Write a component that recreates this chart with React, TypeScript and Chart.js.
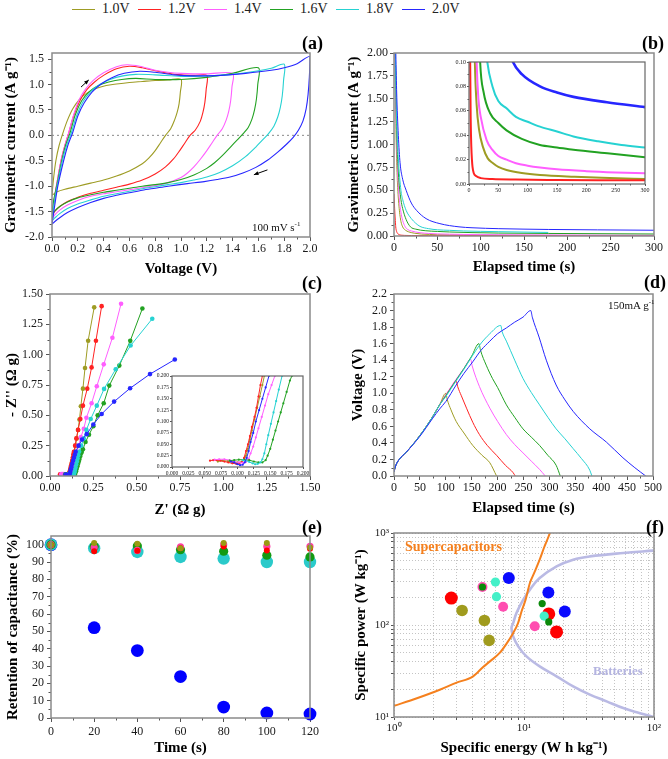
import React, { useEffect, useRef } from 'react';
import { Chart, registerables } from 'chart.js';

Chart.register(...registerables);

const SERIF = '"Liberation Serif", "Times New Roman", Times, serif';

type P = [number, number];

// ---------- shared series ----------
const SERIES_LABELS = ['1.0V', '1.2V', '1.4V', '1.6V', '1.8V', '2.0V'];
const SERIES_COLORS = ['#9e9c24', '#ff2222', '#ff5eff', '#22a222', '#26d2d2', '#2626ff'];

// ---------- (a) cyclic voltammetry: [V, A/g] ----------
const A_X_MIN = 0;
const A_X_MAX = 2;
const CV_10: P[] = [
  [0, -1.18], [0.012, -0.85], [0.03, -0.5], [0.055, -0.2], [0.085, 0.05], [0.12, 0.3], [0.16, 0.52], [0.21, 0.7],
  [0.27, 0.83], [0.34, 0.92], [0.42, 0.98], [0.5, 1.01], [0.6, 1.04], [0.7, 1.06], [0.8, 1.08], [0.9, 1.09], [1.0, 1.1],
  [0.995, 0.85], [0.985, 0.62], [0.97, 0.45], [0.95, 0.3], [0.92, 0.13], [0.88, 0.0], [0.84, -0.15], [0.8, -0.3],
  [0.75, -0.45], [0.7, -0.56], [0.6, -0.7], [0.5, -0.8], [0.4, -0.88], [0.3, -0.94], [0.2, -1.0], [0.1, -1.06],
  [0.04, -1.11], [0, -1.18],
];
const CV_12: P[] = [
  [0, -1.6], [0.015, -1.3], [0.034, -1.0], [0.07, -0.5], [0.1, -0.2], [0.13, 0.05], [0.17, 0.4], [0.22, 0.7],
  [0.27, 0.9], [0.33, 1.05], [0.4, 1.18], [0.5, 1.31], [0.6, 1.36], [0.7, 1.33], [0.8, 1.27], [0.9, 1.22],
  [1.0, 1.19], [1.1, 1.18], [1.2, 1.18],
  [1.195, 0.9], [1.185, 0.65], [1.17, 0.45], [1.15, 0.28], [1.11, 0.1], [1.07, 0.0], [1.03, -0.15], [0.99, -0.3],
  [0.94, -0.47], [0.88, -0.62], [0.8, -0.76], [0.7, -0.88], [0.6, -0.96], [0.5, -1.02], [0.4, -1.08], [0.3, -1.14],
  [0.2, -1.22], [0.12, -1.3], [0.06, -1.4], [0.02, -1.5], [0, -1.6],
];
const CV_14: P[] = [
  [0, -1.65], [0.015, -1.32], [0.034, -1.0], [0.07, -0.5], [0.1, -0.2], [0.13, 0.06], [0.17, 0.42], [0.21, 0.7],
  [0.26, 0.91], [0.32, 1.08], [0.4, 1.23], [0.5, 1.35], [0.58, 1.39], [0.68, 1.36], [0.8, 1.28], [0.9, 1.24],
  [1.0, 1.22], [1.2, 1.21], [1.4, 1.22],
  [1.395, 0.95], [1.385, 0.68], [1.37, 0.47], [1.35, 0.3], [1.32, 0.13], [1.28, 0.0], [1.24, -0.15], [1.2, -0.3],
  [1.15, -0.47], [1.1, -0.62], [1.05, -0.74], [1.0, -0.83], [0.9, -0.93], [0.8, -0.99], [0.7, -1.03], [0.6, -1.07],
  [0.5, -1.11], [0.4, -1.15], [0.3, -1.2], [0.2, -1.28], [0.12, -1.37], [0.06, -1.47], [0.02, -1.57], [0, -1.65],
];
const CV_16: P[] = [
  [0, -1.55], [0.015, -1.25], [0.036, -1.0], [0.075, -0.5], [0.105, -0.2], [0.14, 0.05], [0.18, 0.4], [0.23, 0.68],
  [0.29, 0.86], [0.36, 0.98], [0.44, 1.05], [0.54, 1.1], [0.65, 1.12], [0.8, 1.1], [1.0, 1.1], [1.2, 1.14],
  [1.4, 1.22], [1.6, 1.33],
  [1.595, 1.0], [1.585, 0.72], [1.57, 0.5], [1.55, 0.32], [1.52, 0.15], [1.48, 0.03], [1.44, -0.08], [1.38, -0.24],
  [1.32, -0.4], [1.26, -0.54], [1.2, -0.65], [1.1, -0.78], [1.0, -0.87], [0.9, -0.93], [0.8, -0.97], [0.7, -1.0],
  [0.6, -1.04], [0.5, -1.08], [0.4, -1.12], [0.3, -1.17], [0.2, -1.23], [0.12, -1.31], [0.06, -1.4], [0.02, -1.49],
  [0, -1.55],
];
const CV_18: P[] = [
  [0, -1.68], [0.016, -1.35], [0.04, -1.0], [0.08, -0.5], [0.115, -0.18], [0.15, 0.05], [0.19, 0.38], [0.24, 0.66],
  [0.3, 0.86], [0.37, 1.0], [0.45, 1.1], [0.55, 1.17], [0.65, 1.2], [0.8, 1.19], [1.0, 1.16], [1.2, 1.17],
  [1.4, 1.2], [1.6, 1.27], [1.7, 1.32], [1.8, 1.4],
  [1.795, 1.08], [1.785, 0.78], [1.77, 0.55], [1.75, 0.36], [1.72, 0.18], [1.68, 0.04], [1.64, -0.07], [1.58, -0.23],
  [1.5, -0.42], [1.4, -0.6], [1.3, -0.73], [1.2, -0.82], [1.1, -0.88], [1.0, -0.93], [0.9, -0.97], [0.8, -1.01],
  [0.7, -1.05], [0.6, -1.1], [0.5, -1.15], [0.4, -1.2], [0.3, -1.27], [0.2, -1.35], [0.12, -1.44], [0.06, -1.54],
  [0.02, -1.63], [0, -1.68],
];
const CV_20: P[] = [
  [0, -1.75], [0.02, -1.4], [0.045, -1.0], [0.09, -0.5], [0.125, -0.18], [0.16, 0.05], [0.2, 0.38], [0.25, 0.64],
  [0.31, 0.85], [0.38, 1.01], [0.46, 1.13], [0.56, 1.22], [0.68, 1.26], [0.8, 1.24], [0.95, 1.19], [1.1, 1.17],
  [1.3, 1.18], [1.5, 1.22], [1.7, 1.28], [1.8, 1.33], [1.9, 1.41], [2.0, 1.55],
  [1.995, 1.15], [1.985, 0.8], [1.97, 0.52], [1.945, 0.28], [1.91, 0.1], [1.87, -0.04], [1.82, -0.17], [1.75, -0.33],
  [1.67, -0.49], [1.58, -0.63], [1.48, -0.74], [1.38, -0.82], [1.28, -0.87], [1.18, -0.91], [1.05, -0.95],
  [0.9, -1.0], [0.8, -1.04], [0.7, -1.08], [0.6, -1.13], [0.5, -1.18], [0.4, -1.24], [0.3, -1.32], [0.2, -1.42],
  [0.12, -1.52], [0.06, -1.62], [0.02, -1.7], [0, -1.75],
];
const CV_SERIES = [CV_10, CV_12, CV_14, CV_16, CV_18, CV_20];
const ARROWS_A = [
  [0.225, 0.95, 0.285, 1.09],
  [1.67, -0.68, 1.565, -0.775],
];

// ---------- (b) current decay: [s, A/g] ----------
const DECAY_10: P[] = [
  [1, 2.05], [2, 1.3], [3, 0.85], [4, 0.58], [6, 0.3], [8, 0.16], [10, 0.1], [13, 0.065], [17, 0.045], [24, 0.03],
  [32, 0.021], [41, 0.017], [50, 0.014], [64, 0.0115], [90, 0.009], [121, 0.0074], [180, 0.006], [240, 0.005], [300, 0.0041],
];
const DECAY_12: P[] = [
  [0, 0.46], [0.5, 0.35], [1, 0.25], [1.5, 0.17], [2, 0.1], [3, 0.05], [4, 0.03], [5, 0.02], [6, 0.014], [8, 0.009],
  [12, 0.0065], [20, 0.0048], [40, 0.004], [80, 0.0036], [150, 0.0033], [220, 0.0031], [300, 0.003],
];
const DECAY_14: P[] = [
  [1, 2.05], [2, 1.5], [4, 0.75], [6, 0.42], [8, 0.26], [10, 0.17], [13, 0.1], [16, 0.07], [20, 0.055], [30, 0.036],
  [40, 0.028], [50, 0.023], [64, 0.02], [80, 0.017], [100, 0.015], [121, 0.0135], [150, 0.012], [200, 0.0105],
  [250, 0.0095], [300, 0.0088],
];
const DECAY_16: P[] = [
  [1.5, 2.05], [3, 1.2], [5, 0.7], [8, 0.4], [10, 0.3], [14, 0.18], [19, 0.1], [25, 0.075], [36, 0.058], [50, 0.05],
  [64, 0.044], [90, 0.037], [121, 0.032], [150, 0.03], [178, 0.028], [240, 0.025], [300, 0.022],
];
const DECAY_18: P[] = [
  [1.5, 2.05], [3, 1.3], [5, 0.85], [8, 0.5], [10, 0.4], [14, 0.28], [20, 0.19], [25, 0.14], [30, 0.105], [40, 0.08],
  [50, 0.068], [64, 0.062], [80, 0.055], [100, 0.051], [121, 0.047], [150, 0.043], [178, 0.039], [220, 0.035],
  [260, 0.032], [300, 0.03],
];
const DECAY_20: P[] = [
  [2, 2.05], [3, 1.6], [5, 1.1], [7, 0.8], [10, 0.62], [14, 0.5], [20, 0.36], [26, 0.28], [37, 0.19], [53, 0.135],
  [75, 0.1], [90, 0.09], [121, 0.08], [150, 0.075], [178, 0.0714], [235, 0.067], [300, 0.063],
];
const DECAY_SERIES = [DECAY_10, DECAY_12, DECAY_14, DECAY_16, DECAY_18, DECAY_20];

// ---------- (c) Nyquist: [Z', -Z''] ----------
const EIS_10: P[] = [
  [0.07, 0.012], [0.077, 0.014], [0.085, 0.013], [0.093, 0.011], [0.1, 0.01], [0.106, 0.011], [0.11, 0.015],
  [0.113, 0.025], [0.116, 0.04], [0.119, 0.06], [0.122, 0.08], [0.126, 0.105], [0.13, 0.13], [0.134, 0.155],
  [0.138, 0.18], [0.141, 0.2], [0.147, 0.25], [0.154, 0.31], [0.162, 0.38], [0.17, 0.465], [0.178, 0.575],
  [0.19, 0.72], [0.202, 0.89], [0.22, 1.115], [0.255, 1.39],
];
const EIS_12: P[] = [
  [0.058, 0.014], [0.063, 0.015], [0.068, 0.015], [0.074, 0.014], [0.08, 0.012], [0.086, 0.01], [0.092, 0.008],
  [0.098, 0.007], [0.103, 0.008], [0.107, 0.012], [0.11, 0.02], [0.113, 0.035], [0.116, 0.05], [0.119, 0.068],
  [0.122, 0.088], [0.126, 0.11], [0.129, 0.13], [0.132, 0.155], [0.135, 0.18], [0.138, 0.2], [0.145, 0.25],
  [0.152, 0.31], [0.162, 0.38], [0.175, 0.47], [0.19, 0.58], [0.215, 0.72], [0.24, 0.895], [0.265, 1.115], [0.298, 1.4],
];
const EIS_14: P[] = [
  [0.065, 0.016], [0.072, 0.017], [0.08, 0.017], [0.088, 0.015], [0.095, 0.012], [0.102, 0.01], [0.108, 0.009],
  [0.113, 0.011], [0.117, 0.018], [0.12, 0.03], [0.124, 0.045], [0.128, 0.065], [0.132, 0.085], [0.137, 0.11],
  [0.142, 0.135], [0.147, 0.16], [0.152, 0.18], [0.157, 0.2], [0.165, 0.25], [0.178, 0.32], [0.195, 0.39],
  [0.21, 0.48], [0.24, 0.6], [0.27, 0.74], [0.31, 0.92], [0.36, 1.14], [0.41, 1.42],
];
const EIS_16: P[] = [
  [0.088, 0.014], [0.095, 0.015], [0.102, 0.016], [0.11, 0.016], [0.118, 0.015], [0.125, 0.012], [0.132, 0.01],
  [0.138, 0.01], [0.143, 0.015], [0.146, 0.025], [0.15, 0.04], [0.154, 0.06], [0.158, 0.08], [0.162, 0.1],
  [0.166, 0.12], [0.17, 0.14], [0.175, 0.165], [0.18, 0.19], [0.183, 0.2], [0.19, 0.22], [0.205, 0.28],
  [0.225, 0.34], [0.25, 0.41], [0.275, 0.5], [0.31, 0.6], [0.342, 0.745], [0.4, 0.91], [0.463, 1.114], [0.533, 1.38],
];
const EIS_18: P[] = [
  [0.108, 0.015], [0.113, 0.014], [0.118, 0.011], [0.123, 0.008], [0.127, 0.006], [0.131, 0.007], [0.135, 0.01],
  [0.138, 0.017], [0.141, 0.03], [0.144, 0.05], [0.147, 0.07], [0.151, 0.095], [0.155, 0.12], [0.159, 0.145],
  [0.163, 0.17], [0.168, 0.2], [0.18, 0.25], [0.195, 0.31], [0.21, 0.38], [0.235, 0.47], [0.27, 0.58],
  [0.312, 0.718], [0.379, 0.88], [0.465, 1.075], [0.59, 1.296],
];
const EIS_20: P[] = [
  [0.09, 0.012], [0.095, 0.01], [0.1, 0.006], [0.104, 0.004], [0.108, 0.005], [0.111, 0.01], [0.114, 0.02],
  [0.117, 0.035], [0.12, 0.055], [0.124, 0.075], [0.128, 0.1], [0.133, 0.125], [0.138, 0.15], [0.143, 0.175],
  [0.148, 0.2], [0.165, 0.25], [0.185, 0.3], [0.212, 0.345], [0.25, 0.425], [0.298, 0.511], [0.37, 0.613],
  [0.462, 0.723], [0.577, 0.84], [0.72, 0.96],
];
const EIS_SERIES = [EIS_10, EIS_12, EIS_14, EIS_16, EIS_18, EIS_20];

// ---------- (d) charge / discharge: [s, V] ----------
const GCD_10: P[] = [
  [0, 0.05], [3, 0.12], [10, 0.2], [24, 0.29], [50, 0.49], [75, 0.72], [88, 0.86], [100, 1.0],
  [103, 0.92], [110, 0.8], [120, 0.66], [135, 0.52], [152, 0.37], [170, 0.25], [185, 0.16], [198, 0.0],
];
const GCD_12: P[] = [
  [0, 0.05], [3, 0.12], [10, 0.2], [24, 0.29], [50, 0.49], [75, 0.72], [88, 0.86], [100, 0.98], [110, 1.07], [120, 1.15],
  [123, 1.08], [130, 0.97], [140, 0.82], [152, 0.65], [165, 0.5], [180, 0.37], [198, 0.25], [215, 0.13], [230, 0.04], [234, 0.0],
];
const GCD_14: P[] = [
  [0, 0.05], [3, 0.12], [10, 0.2], [24, 0.29], [50, 0.49], [75, 0.72], [88, 0.86], [100, 0.98], [120, 1.17], [135, 1.3], [148, 1.41],
  [151, 1.33], [165, 1.08], [185, 0.82], [200, 0.66], [217, 0.5], [233, 0.38], [249, 0.28], [265, 0.18], [281, 0.08], [292, 0.0],
];
const GCD_16: P[] = [
  [0, 0.05], [3, 0.12], [10, 0.2], [24, 0.29], [50, 0.49], [75, 0.72], [88, 0.86], [100, 0.97], [120, 1.16], [135, 1.3], [150, 1.45], [164, 1.6],
  [167, 1.52], [178, 1.34], [190, 1.18], [200, 1.07], [217, 0.86], [233, 0.71], [249, 0.57], [265, 0.47], [281, 0.37],
  [297, 0.25], [313, 0.13], [321, 0.0],
];
const GCD_18: P[] = [
  [0, 0.05], [3, 0.12], [10, 0.2], [24, 0.29], [50, 0.49], [75, 0.72], [88, 0.86], [100, 0.96], [120, 1.15], [135, 1.29],
  [150, 1.44], [165, 1.58], [185, 1.72], [206, 1.82],
  [209, 1.74], [217, 1.63], [233, 1.4], [249, 1.18], [265, 1.01], [281, 0.86], [297, 0.71], [313, 0.57], [330, 0.45],
  [346, 0.33], [362, 0.21], [378, 0.07], [382, 0.0],
];
const GCD_20: P[] = [
  [0, 0.05], [3, 0.12], [10, 0.2], [24, 0.29], [50, 0.48], [75, 0.7], [88, 0.81], [100, 0.9], [120, 1.1], [135, 1.24],
  [152, 1.38], [168, 1.52], [185, 1.63], [200, 1.72], [217, 1.79], [233, 1.86], [249, 1.92], [264, 2.0],
  [267, 1.92], [280, 1.68], [294, 1.4], [313, 1.1], [330, 0.92], [346, 0.78], [378, 0.57], [410, 0.41], [442, 0.22],
  [465, 0.1], [486, 0.0],
];
const GCD_SERIES = [GCD_10, GCD_12, GCD_14, GCD_16, GCD_18, GCD_20];

// ---------- (e) retention ----------
const RET_TIME = [0, 20, 40, 60, 80, 100, 120];
const RET_10 = [100, 101, 100.6, 98, 101, 101, 98.3];
const RET_12 = [100, 96.2, 96.5, 98, 99, 96.7, 97.7];
const RET_14 = [100, 98.3, 96.7, 98.7, 100, 99, 99];
const RET_16 = [100, 99, 99.2, 97.1, 96.2, 93.9, 92.9];
const RET_18 = [100, 98, 95.8, 92.9, 92, 90, 90];
const RET_20 = [100, 52.1, 38.9, 23.9, 6.3, 2.9, 2.3];
const RET_SERIES = [RET_10, RET_12, RET_14, RET_16, RET_18, RET_20];
const RET_COLORS = ['#9a9a12', '#ff0000', '#ff3fa6', '#129a12', '#2acaca', '#0000ff'];
const RET_RADII = [3, 3, 3.6, 4.6, 6.2, 6.4];

// ---------- (f) Ragone ----------
const F_RED_E = [2.76, 15.5, 17.8];
const F_RED_P = [196, 132, 84];
const F_OLIVE_E = [3.34, 4.96, 5.39];
const F_OLIVE_P = [144, 112, 68];
const F_PINK_E = [4.79, 6.91, 12.1];
const F_PINK_P = [259, 158, 97];
const F_MINT_E = [6.03, 6.14, 14.3];
const F_MINT_P = [293, 203, 125];
const F_BLUE_E = [7.64, 15.4, 20.6];
const F_BLUE_P = [324, 225, 140];
const F_GREEN_E = [4.79, 13.8, 15.5];
const F_GREEN_P = [259, 171, 108];
const SUPERCAP_E = [1, 1.5, 2.25, 3, 4.06, 4.85, 5.5, 6.5, 7.3, 8.26, 9, 9.57, 10.3, 11.1, 12, 13.2, 14.3, 15.4, 16];
const SUPERCAP_P = [13.2, 16, 19.8, 23.5, 27.7, 35, 40.5, 49.7, 62, 82, 105, 140, 190, 286, 370, 513, 700, 905, 1050];
const BATTERY_E = [98.8, 58, 32.1, 23.9, 17.8, 13.2, 11.1, 9.85, 8.75, 8.26, 8.01, 8.26, 9.02, 10.45, 13.2, 17.8, 23.9, 32.1, 43.2, 58, 78, 98.8];
const BATTERY_P = [643, 607, 557, 513, 434, 324, 242, 188, 135, 105, 92.7, 75.3, 58.6, 45.6, 35.5, 27.7, 21.5, 17.5, 14.8, 12.5, 11.0, 10];
const SUP = ['\u2070', '\u00b9', '\u00b2', '\u00b3'];

// ---------- layout (plot rectangles) ----------
type Panel = { L: number; T: number; R: number; B: number; ml: number; mt: number; mr: number; mb: number };
const PANEL_A: Panel = { L: 52, T: 53, R: 310, B: 237, ml: 52, mt: 13, mr: 14, mb: 42 };
const PANEL_B: Panel = { L: 394, T: 53, R: 654, B: 236, ml: 54, mt: 13, mr: 14, mb: 42 };
const INSET_B: Panel = { L: 469, T: 62, R: 645, B: 184, ml: 18, mt: 5, mr: 8, mb: 11 };
const PANEL_C: Panel = { L: 50, T: 294, R: 310, B: 476, ml: 50, mt: 13, mr: 14, mb: 45 };
const INSET_C: Panel = { L: 172, T: 376, R: 303, B: 467, ml: 18, mt: 5, mr: 8, mb: 10 };
const PANEL_D: Panel = { L: 394, T: 294, R: 653, B: 476, ml: 54, mt: 13, mr: 14, mb: 43 };
const PANEL_E: Panel = { L: 51, T: 536, R: 310, B: 718, ml: 51, mt: 13, mr: 14, mb: 41 };
const PANEL_F: Panel = { L: 394, T: 533, R: 654, B: 717, ml: 54, mt: 13, mr: 14, mb: 42 };

const boxOf = (p: Panel) => ({
  left: p.L - p.ml,
  top: p.T - p.mt,
  width: p.R - p.L + p.ml + p.mr,
  height: p.B - p.T + p.mt + p.mb,
});

// ---------- helpers ----------
const toXY = (pts: P[]) => pts.map(([x, y]) => ({ x, y }));
const zip = (xs: number[], ys: number[]) => xs.map((x, i) => ({ x, y: ys[i] }));

const lineDs = (data: any[], color: string, width: number, extra: any = {}) => ({
  data,
  showLine: true,
  borderColor: color,
  backgroundColor: color,
  borderWidth: width,
  pointRadius: 0,
  pointHoverRadius: 0,
  tension: 0,
  ...extra,
});

const pointDs = (data: any[], color: string, r: number) => ({
  data,
  showLine: false,
  backgroundColor: color,
  borderColor: color,
  borderWidth: 0,
  pointRadius: r,
  pointHoverRadius: r,
  pointBorderWidth: 0,
  clip: false,
});

function axis(o: any) {
  const isX = o.pos === 'x';
  const cfg: any = {
    type: o.type || 'linear',
    position: isX ? 'bottom' : 'left',
    min: o.min,
    max: o.max,
    afterFit: (s: any) => {
      if (isX) s.height = o.size;
      else s.width = o.size;
    },
    ticks: {
      stepSize: o.step,
      includeBounds: false,
      autoSkip: false,
      maxRotation: 0,
      minRotation: 0,
      padding: o.pad ?? 2,
      font: { family: SERIF, size: o.fs ?? 12 },
      color: '#1a1a1a',
      callback: o.fmt,
    },
    grid: {
      display: true,
      drawOnChartArea: !!o.gridOn,
      drawTicks: true,
      tickLength: o.tl ?? 4,
      tickColor: '#555',
      tickWidth: 1,
      color: o.gridColor || 'rgba(0,0,0,0)',
      lineWidth: 1,
    },
    border: { display: false, dash: o.dash || [] },
    title: o.title
      ? {
          display: true,
          text: o.title,
          color: '#000',
          font: { family: SERIF, size: o.tfs ?? 15, weight: 'bold' },
          padding: { top: o.tpad, bottom: o.tpad },
        }
      : { display: false },
  };
  if (o.tickValues) {
    cfg.afterBuildTicks = (s: any) => {
      s.ticks = o.tickValues.map((v: number) => ({ value: v }));
    };
  }
  return cfg;
}

function boxPlugin(o: { minorX?: number; minorY?: number; bg?: string; arrows?: number[][]; len?: number; color?: string; width?: number }) {
  return {
    id: 'boxframe',
    beforeDraw(chart: any) {
      if (!o.bg) return;
      const { ctx, chartArea: a } = chart;
      ctx.save();
      ctx.fillStyle = o.bg;
      ctx.fillRect(a.left, a.top, a.right - a.left, a.bottom - a.top);
      ctx.restore();
    },
    afterDraw(chart: any) {
      const { ctx, chartArea: a } = chart;
      ctx.save();
      // minor ticks
      ctx.strokeStyle = '#555';
      ctx.lineWidth = 1;
      const len = o.len ?? 2.5;
      const minor = (scale: any, n: number, isX: boolean) => {
        const vals = scale.ticks.map((t: any) => t.value);
        for (let i = 0; i < vals.length - 1; i++) {
          for (let k = 1; k < n; k++) {
            const v = vals[i] + ((vals[i + 1] - vals[i]) * k) / n;
            const p = Math.round(scale.getPixelForValue(v)) + 0.5;
            ctx.beginPath();
            if (isX) {
              ctx.moveTo(p, a.bottom);
              ctx.lineTo(p, a.bottom + len);
            } else {
              ctx.moveTo(a.left - len, p);
              ctx.lineTo(a.left, p);
            }
            ctx.stroke();
          }
        }
      };
      if (o.minorX) minor(chart.scales.x, o.minorX, true);
      if (o.minorY) minor(chart.scales.y, o.minorY, false);
      // arrows (data coordinates)
      if (o.arrows) {
        ctx.strokeStyle = '#000';
        ctx.fillStyle = '#000';
        ctx.lineWidth = 1;
        for (const ar of o.arrows) {
          const x1 = chart.scales.x.getPixelForValue(ar[0]);
          const y1 = chart.scales.y.getPixelForValue(ar[1]);
          const x2 = chart.scales.x.getPixelForValue(ar[2]);
          const y2 = chart.scales.y.getPixelForValue(ar[3]);
          const ang = Math.atan2(y2 - y1, x2 - x1);
          ctx.beginPath();
          ctx.moveTo(x1, y1);
          ctx.lineTo(x2, y2);
          ctx.stroke();
          ctx.beginPath();
          ctx.moveTo(x2, y2);
          ctx.lineTo(x2 - 5 * Math.cos(ang - 0.4), y2 - 5 * Math.sin(ang - 0.4));
          ctx.lineTo(x2 - 5 * Math.cos(ang + 0.4), y2 - 5 * Math.sin(ang + 0.4));
          ctx.closePath();
          ctx.fill();
        }
      }
      // frame
      ctx.strokeStyle = o.color || '#8a8a8a';
      ctx.lineWidth = o.width ?? 1.5;
      ctx.strokeRect(a.left, a.top, a.right - a.left, a.bottom - a.top);
      ctx.restore();
    },
  };
}

function baseOptions(p: Panel, scales: any) {
  return {
    responsive: false,
    maintainAspectRatio: false,
    animation: false,
    events: [],
    layout: { padding: { left: 0, top: p.mt, right: p.mr, bottom: 0 } },
    plugins: { legend: { display: false }, tooltip: { enabled: false } },
    scales,
  };
}

const fix = (n: number) => (v: number) => Number(v).toFixed(n);

// ---------- chart configs ----------
function cfgA() {
  const p = PANEL_A;
  const loops = CV_SERIES.map((d, i) => lineDs(toXY(d), SERIES_COLORS[i], 1.1, { tension: 0.3 })).reverse();
  const zero = lineDs(toXY([[A_X_MIN, 0], [A_X_MAX, 0]]), '#888', 1, { borderDash: [2, 3] });
  return {
    type: 'scatter',
    data: { datasets: [...loops, zero] },
    options: baseOptions(p, {
      x: axis({ pos: 'x', min: A_X_MIN, max: A_X_MAX, step: 0.2, size: p.mb, fmt: fix(1), pad: 1, title: 'Voltage (V)', tpad: 1 }),
      y: axis({ pos: 'y', min: -2, max: 1.62, step: 0.5, size: p.ml, fmt: fix(1), pad: 4, title: 'Gravimetric current (A g\u207b\u00b9)', tpad: 2 }),
    }),
    plugins: [boxPlugin({ minorX: 2, minorY: 2, arrows: ARROWS_A })],
  };
}

function cfgB() {
  const p = PANEL_B;
  return {
    type: 'scatter',
    data: {
      datasets: DECAY_SERIES.map((d, i) =>
        lineDs(toXY(i === 4 ? d.filter(([x]) => x <= 215) : d), SERIES_COLORS[i], 1, { cubicInterpolationMode: 'monotone' })
      ).reverse(),
    },
    options: baseOptions(p, {
      x: axis({ pos: 'x', min: 0, max: 300, step: 50, size: p.mb, fmt: fix(0), pad: 1, title: 'Elapsed time (s)', tpad: 2 }),
      y: axis({ pos: 'y', min: 0, max: 2, step: 0.25, size: p.ml, fmt: fix(2), pad: 2, title: 'Gravimetric current (A g\u207b\u00b9)', tpad: 5 }),
    }),
    plugins: [boxPlugin({ minorX: 2, minorY: 2 })],
  };
}

function cfgBInset() {
  const p = INSET_B;
  return {
    type: 'scatter',
    data: {
      datasets: DECAY_SERIES.map((d, i) =>
        lineDs(toXY(d), SERIES_COLORS[i], i === 5 ? 2.6 : 2, { cubicInterpolationMode: 'monotone' })
      ).reverse(),
    },
    options: baseOptions(p, {
      x: axis({ pos: 'x', min: 0, max: 300, step: 50, size: p.mb, fmt: fix(0), pad: 1, fs: 6, tl: 2 }),
      y: axis({ pos: 'y', min: 0, max: 0.1, step: 0.02, size: p.ml, fmt: fix(2), pad: 1, fs: 6, tl: 2 }),
    }),
    plugins: [boxPlugin({ minorX: 2, minorY: 2, bg: '#ffffff', len: 1.5, color: '#666', width: 1.2 })],
  };
}

function cfgC() {
  const p = PANEL_C;
  return {
    type: 'scatter',
    data: {
      datasets: EIS_SERIES.map((d, i) =>
        lineDs(toXY(d), SERIES_COLORS[i], 1, { pointRadius: 2.3, pointBorderWidth: 0, pointBackgroundColor: SERIES_COLORS[i] })
      ).reverse(),
    },
    options: baseOptions(p, {
      x: axis({ pos: 'x', min: 0, max: 1.5, step: 0.25, size: p.mb, fmt: fix(2), pad: 1, title: "Z' (\u03a9 g)", tpad: 2 }),
      y: axis({ pos: 'y', min: 0, max: 1.5, step: 0.25, size: p.ml, fmt: fix(2), pad: 3, title: "- Z'' (\u03a9 g)", tpad: 3 }),
    }),
    plugins: [boxPlugin({ minorX: 2, minorY: 2 })],
  };
}

function cfgCInset() {
  const p = INSET_C;
  return {
    type: 'scatter',
    data: {
      datasets: EIS_SERIES.map((d, i) =>
        lineDs(toXY(d), SERIES_COLORS[i], 1, { pointRadius: 1.1, pointBorderWidth: 0, pointBackgroundColor: SERIES_COLORS[i] })
      ).reverse(),
    },
    options: baseOptions(p, {
      x: axis({ pos: 'x', min: 0, max: 0.2, step: 0.025, size: p.mb, fmt: fix(3), pad: 1, fs: 5.5, tl: 2 }),
      y: axis({ pos: 'y', min: 0, max: 0.2, step: 0.025, size: p.ml, fmt: fix(3), pad: 1, fs: 5.5, tl: 2 }),
    }),
    plugins: [boxPlugin({ bg: '#ffffff', color: '#666', width: 1.2 })],
  };
}

function cfgD() {
  const p = PANEL_D;
  return {
    type: 'scatter',
    data: {
      datasets: GCD_SERIES.map((d, i) => lineDs(toXY(d), SERIES_COLORS[i], 1, { cubicInterpolationMode: 'monotone' })).reverse(),
    },
    options: baseOptions(p, {
      x: axis({ pos: 'x', min: 0, max: 500, step: 50, size: p.mb, fmt: fix(0), pad: 1, title: 'Elapsed time (s)', tpad: 2 }),
      y: axis({ pos: 'y', min: 0, max: 2.2, step: 0.2, size: p.ml, fmt: fix(1), pad: 3, title: 'Voltage (V)', tpad: 9 }),
    }),
    plugins: [boxPlugin({ minorX: 2, minorY: 2 })],
  };
}

function cfgE() {
  const p = PANEL_E;
  return {
    type: 'scatter',
    data: {
      datasets: RET_SERIES.map((s, i) => pointDs(zip(RET_TIME, s), RET_COLORS[i], RET_RADII[i])),
    },
    options: baseOptions(p, {
      x: axis({ pos: 'x', min: 0, max: 120, step: 20, size: p.mb, fmt: fix(0), pad: 3, title: 'Time (s)', tpad: 2 }),
      y: axis({ pos: 'y', min: 0, max: 105, step: 10, size: p.ml, fmt: fix(0), pad: 3, title: 'Retention of capacitance (%)', tpad: 4 }),
    }),
    plugins: [boxPlugin({ minorX: 2, minorY: 2 })],
  };
}

function decadeTicks(lo: number, hi: number) {
  const out: number[] = [];
  for (let e = lo; e < hi; e++) for (let m = 1; m < 10; m++) out.push(m * Math.pow(10, e));
  out.push(Math.pow(10, hi));
  return out;
}
const powLabel = (v: number) => {
  const l = Math.log10(v);
  const r = Math.round(l);
  return Math.abs(l - r) < 1e-9 ? '10' + SUP[r] : '';
};

function cfgF() {
  const p = PANEL_F;
  return {
    type: 'scatter',
    data: {
      datasets: [
        pointDs(zip(F_GREEN_E, F_GREEN_P), '#0b8a0b', 3.6),
        pointDs(zip(F_MINT_E, F_MINT_P), '#44f0c8', 4.6),
        pointDs(zip(F_PINK_E, F_PINK_P), '#ff4db0', 5),
        pointDs(zip(F_BLUE_E, F_BLUE_P), '#0a0aff', 6),
        pointDs(zip(F_OLIVE_E, F_OLIVE_P), '#a09b1e', 5.8),
        pointDs(zip(F_RED_E, F_RED_P), '#ff0000', 6.5),
        lineDs(zip(SUPERCAP_E, SUPERCAP_P), '#f5801e', 2, { cubicInterpolationMode: 'monotone' }),
        lineDs(zip(BATTERY_E, BATTERY_P), '#babae4', 2.6, { tension: 0.4 }),
      ],
    },
    options: baseOptions(p, {
      x: axis({
        pos: 'x', type: 'logarithmic', min: 1, max: 100, size: p.mb, fmt: powLabel, pad: 2, fs: 11, tl: 3,
        tickValues: decadeTicks(0, 2), gridOn: true, gridColor: '#c4c4c4', dash: [1, 2],
        title: 'Specific energy (W h kg\u207b\u00b9)', tpad: 2,
      }),
      y: axis({
        pos: 'y', type: 'logarithmic', min: 10, max: 1000, size: p.ml, fmt: powLabel, pad: 2, fs: 11, tl: 3,
        tickValues: decadeTicks(1, 3), gridOn: true, gridColor: '#c4c4c4', dash: [1, 2],
        title: 'Specific power (W kg\u207b\u00b9)', tpad: 12,
      }),
    }),
    plugins: [boxPlugin({})],
  };
}

// ---------- components ----------
function ChartCanvas({ panel, make }: { panel: Panel; make: () => any }) {
  const ref = useRef<HTMLCanvasElement>(null);
  const b = boxOf(panel);
  useEffect(() => {
    const chart = new Chart(ref.current as HTMLCanvasElement, make());
    return () => chart.destroy();
  }, []);
  return (
    <canvas
      ref={ref}
      width={b.width}
      height={b.height}
      style={{ position: 'absolute', left: b.left, top: b.top, width: b.width, height: b.height }}
    />
  );
}

function Label({ left, top, children, style }: any) {
  return (
    <div style={{ position: 'absolute', left, top, whiteSpace: 'nowrap', fontFamily: SERIF, ...style }}>{children}</div>
  );
}

const supStyle: any = { fontSize: 7, verticalAlign: 'super', lineHeight: 0 };

export default function App() {
  return (
    <div style={{ position: 'absolute', left: 0, top: 0, width: 668, height: 759, background: '#fff', overflow: 'hidden' }}>
      {SERIES_LABELS.map((lab, i) => (
        <div
          key={lab}
          style={{ position: 'absolute', left: 72 + i * 66, top: 1, height: 16, display: 'flex', alignItems: 'center' }}
        >
          <span style={{ display: 'inline-block', width: 23, height: 0, borderTop: `1.5px solid ${SERIES_COLORS[i]}` }} />
          <span style={{ marginLeft: 7, fontFamily: SERIF, fontSize: 14, color: '#222', lineHeight: '16px' }}>{lab}</span>
        </div>
      ))}

      <ChartCanvas panel={PANEL_A} make={cfgA} />
      <ChartCanvas panel={PANEL_B} make={cfgB} />
      <ChartCanvas panel={INSET_B} make={cfgBInset} />
      <ChartCanvas panel={PANEL_C} make={cfgC} />
      <ChartCanvas panel={INSET_C} make={cfgCInset} />
      <ChartCanvas panel={PANEL_D} make={cfgD} />
      <ChartCanvas panel={PANEL_E} make={cfgE} />
      <ChartCanvas panel={PANEL_F} make={cfgF} />

      <Label left={302} top={33} style={{ fontWeight: 'bold', fontSize: 18, lineHeight: '20px' }}>(a)</Label>
      <Label left={642} top={33} style={{ fontWeight: 'bold', fontSize: 18, lineHeight: '20px' }}>(b)</Label>
      <Label left={302} top={273} style={{ fontWeight: 'bold', fontSize: 18, lineHeight: '20px' }}>(c)</Label>
      <Label left={644} top={272} style={{ fontWeight: 'bold', fontSize: 18, lineHeight: '20px' }}>(d)</Label>
      <Label left={302} top={517} style={{ fontWeight: 'bold', fontSize: 18, lineHeight: '20px' }}>(e)</Label>
      <Label left={646} top={517} style={{ fontWeight: 'bold', fontSize: 18, lineHeight: '20px' }}>(f)</Label>

      <Label left={252} top={220} style={{ fontSize: 11, lineHeight: '14px', color: '#111' }}>
        100 mV s<span style={supStyle}>-1</span>
      </Label>
      <Label left={608} top={298} style={{ fontSize: 11, lineHeight: '14px', color: '#111' }}>
        150mA g<span style={supStyle}>-1</span>
      </Label>
      <Label left={405} top={539} style={{ fontSize: 14, fontWeight: 'bold', lineHeight: '16px', color: '#f5801e' }}>
        Supercapacitors
      </Label>
      <Label left={593} top={663} style={{ fontSize: 13, fontWeight: 'bold', lineHeight: '16px', color: '#b4b4e0' }}>
        Batteries
      </Label>
    </div>
  );
}
